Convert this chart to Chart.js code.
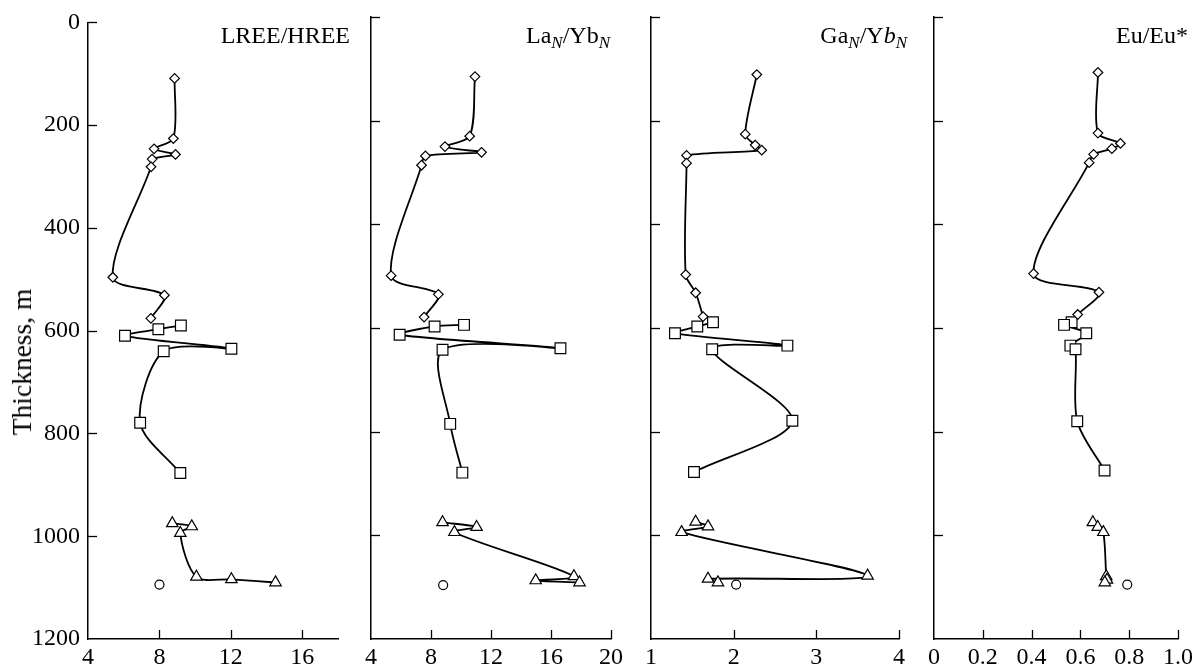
<!DOCTYPE html>
<html>
<head>
<meta charset="utf-8">
<title>Thickness profiles</title>
<script src="https://cdn.jsdelivr.net/npm/chart.js@4.4.1/dist/chart.umd.min.js"></script>
<style>
    html, body { margin: 0; padding: 0; background: #fff; }
    #wrap { position: relative; width: 1204px; height: 672px; overflow: hidden; }
    #wrap canvas { position: absolute; top: 0; }
    .panel-label {
        position: absolute; top: 22px; line-height: 24px;
        font: 24px "Liberation Serif", "Times New Roman", serif; color: #000; white-space: nowrap;
    }
    .panel-label sub { font-size: 17px; line-height: 0; vertical-align: -5px; }
    #yTitle {
        position: absolute; left: 22px; top: 362px; white-space: nowrap;
        font: 27.5px "Liberation Serif", "Times New Roman", serif; color: #000;
        transform: translate(-50%, -50%) rotate(-90deg);
    }
</style>
</head>
<body>
<div id="wrap">
    <canvas id="c1"></canvas>
    <canvas id="c2"></canvas>
    <canvas id="c3"></canvas>
    <canvas id="c4"></canvas>
    <div id="yTitle">Thickness, m</div>
    <div class="panel-label" style="right:854px">LREE/HREE</div>
    <div class="panel-label" style="right:594px">La<sub><i>N</i></sub>/Yb<sub><i>N</i></sub></div>
    <div class="panel-label" style="right:297px">Ga<sub><i>N</i></sub>/Y<i>b</i><sub><i>N</i></sub></div>
    <div class="panel-label" style="right:16px">Eu/Eu*</div>
</div>
<script>
// depth, m
const depthTicks = [0, 200, 400, 600, 800, 1000, 1200];

// LREE/HREE
const lreeDiamondDepth = [109, 226, 246, 257, 266, 281, 496, 531, 576];
const lreeDiamond = [8.85, 8.78, 7.70, 8.90, 7.59, 7.53, 5.39, 8.28, 7.52];
const lreeSquareDepth = [590, 597, 610, 635, 640, 779, 877];
const lreeSquare = [9.20, 7.94, 6.07, 12.03, 8.24, 6.92, 9.17];
const lreeTriangleDepth = [975, 981, 994, 1079, 1084, 1090];
const lreeTriangle = [8.72, 9.81, 9.17, 10.07, 12.03, 14.50];
const lreeCircleDepth = [1094];
const lreeCircle = [8.0];

// La_N/Yb_N
const laDiamondDepth = [115, 230, 250, 261, 268, 286, 499, 535, 579];
const laDiamond = [10.93, 10.58, 8.93, 11.37, 7.63, 7.37, 5.34, 8.49, 7.54];
const laSquareDepth = [594, 597, 613, 639, 642, 785, 879];
const laSquare = [10.20, 8.24, 5.91, 16.63, 8.77, 9.28, 10.09];
const laTriangleDepth = [975, 984, 994, 1079, 1087, 1091];
const laTriangle = [8.77, 11.04, 9.56, 17.53, 14.98, 17.90];
const laCircleDepth = [1096];
const laCircle = [8.81];

// Ga_N/Yb_N
const gaDiamondDepth = [111, 226, 247, 257, 267, 282, 497, 532, 578];
const gaDiamond = [2.28, 2.14, 2.26, 2.34, 1.43, 1.43, 1.42, 1.54, 1.63];
const gaSquareDepth = [589, 597, 610, 634, 641, 779, 878];
const gaSquare = [1.75, 1.56, 1.29, 2.65, 1.74, 2.71, 1.52];
const gaTriangleDepth = [974, 983, 994, 1078, 1084, 1091];
const gaTriangle = [1.54, 1.69, 1.37, 3.62, 1.69, 1.81];
const gaCircleDepth = [1095];
const gaCircle = [2.03];

// Eu/Eu*
const euDiamondDepth = [107, 224, 244, 254, 265, 281, 495, 531, 574];
const euDiamond = [0.672, 0.672, 0.764, 0.729, 0.654, 0.636, 0.408, 0.676, 0.589];
const euSquareDepth = [589, 594, 610, 634, 641, 780, 875];
const euSquare = [0.564, 0.533, 0.624, 0.559, 0.580, 0.587, 0.699];
const euTriangleDepth = [975, 984, 994, 1079, 1086, 1091];
const euTriangle = [0.651, 0.671, 0.694, 0.706, 0.709, 0.700];
const euCircleDepth = [1095];
const euCircle = [0.792];

const FONT = { family: '"Liberation Serif", "Times New Roman", serif', size: 24 };
const CHART_TOP = 17;
const AXIS_H = 33;
const PAD_RIGHT = 14;

const panels = [
    { id: 'c1', left: 88, right: 338, xMin: 4, xMax: 18, step: 4, yLabels: true,
      series: [lreeDiamond, lreeDiamondDepth, lreeSquare, lreeSquareDepth, lreeTriangle, lreeTriangleDepth, lreeCircle, lreeCircleDepth] },
    { id: 'c2', left: 371, right: 613, xMin: 4, xMax: 20, step: 4, yLabels: false,
      series: [laDiamond, laDiamondDepth, laSquare, laSquareDepth, laTriangle, laTriangleDepth, laCircle, laCircleDepth] },
    { id: 'c3', left: 651, right: 899, xMin: 1, xMax: 4, step: 1, yLabels: false,
      series: [gaDiamond, gaDiamondDepth, gaSquare, gaSquareDepth, gaTriangle, gaTriangleDepth, gaCircle, gaCircleDepth] },
    { id: 'c4', left: 934, right: 1183, xMin: 0, xMax: 1, step: 0.2, yLabels: false,
      fmt: v => (v === 0 ? '0' : v.toFixed(1)),
      series: [euDiamond, euDiamondDepth, euSquare, euSquareDepth, euTriangle, euTriangleDepth, euCircle, euCircleDepth] }
];

// short tick marks pointing into the plot, as in the printed figure
const innerTicks = {
    id: 'innerTicks',
    afterDraw(chart) {
        const { ctx, chartArea, scales } = chart;
        ctx.save();
        ctx.strokeStyle = '#000';
        ctx.lineWidth = 1.3;
        scales.x.ticks.forEach(t => {
            const px = Math.round(scales.x.getPixelForValue(t.value)) + 0.5;
            if (px <= chartArea.left + 2) return;
            ctx.beginPath();
            ctx.moveTo(px, chartArea.bottom);
            ctx.lineTo(px, chartArea.bottom - 9);
            ctx.stroke();
        });
        scales.y.ticks.forEach(t => {
            const py = Math.round(scales.y.getPixelForValue(t.value)) + 0.5;
            if (py >= chartArea.bottom - 2) return;
            ctx.beginPath();
            ctx.moveTo(chartArea.left, py);
            ctx.lineTo(chartArea.left + 9, py);
            ctx.stroke();
        });
        ctx.restore();
    }
};

function toPoints(vals, depths) {
    return vals.map((v, i) => ({ x: v, y: depths[i] }));
}

function makeSet(vals, depths, style, radius, line) {
    return {
        data: toPoints(vals, depths),
        showLine: line,
        borderColor: '#000',
        borderWidth: 1.8,
        tension: 0.3,
        pointStyle: style,
        pointRadius: radius,
        pointBackgroundColor: '#fff',
        pointBorderColor: '#000',
        pointBorderWidth: 1.2
    };
}

function drawPanel(p) {
    const yW = p.yLabels ? p.left : 10;
    const canvas = document.getElementById(p.id);
    canvas.width = yW + (p.right - p.left) + PAD_RIGHT;
    canvas.height = 672;
    canvas.style.left = (p.left - yW) + 'px';

    const s = p.series;
    new Chart(canvas, {
        type: 'scatter',
        data: {
            datasets: [
                makeSet(s[0], s[1], 'rectRot', 4.8, true),
                makeSet(s[2], s[3], 'rect', 7.6, true),
                makeSet(s[4], s[5], 'triangle', 6.6, true),
                makeSet(s[6], s[7], 'circle', 4.5, false)
            ]
        },
        options: {
            responsive: false,
            animation: false,
            events: [],
            layout: { padding: { top: CHART_TOP, right: PAD_RIGHT, left: 0, bottom: 0 } },
            plugins: { legend: { display: false }, tooltip: { enabled: false } },
            scales: {
                x: {
                    type: 'linear',
                    min: p.xMin,
                    max: p.xMax,
                    grid: { drawOnChartArea: false, drawTicks: false },
                    border: { display: true, color: '#000', width: 1.5 },
                    ticks: {
                        stepSize: p.step,
                        includeBounds: false,
                        autoSkip: false,
                        maxRotation: 0,
                        padding: 4,
                        color: '#000',
                        font: FONT,
                        callback: p.fmt || (v => String(v))
                    },
                    afterFit: sc => { sc.height = AXIS_H; }
                },
                y: {
                    type: 'linear',
                    reverse: true,
                    min: depthTicks[0],
                    max: depthTicks[depthTicks.length - 1],
                    grid: { drawOnChartArea: false, drawTicks: false },
                    border: { display: true, color: '#000', width: 1.5 },
                    ticks: {
                        display: p.yLabels,
                        stepSize: depthTicks[1] - depthTicks[0],
                        padding: 8,
                        color: '#000',
                        font: FONT,
                        callback: v => String(v)
                    },
                    afterFit: sc => { sc.width = yW; }
                }
            }
        },
        plugins: [innerTicks]
    });
}

panels.forEach(drawPanel);
</script>
</body>
</html>
